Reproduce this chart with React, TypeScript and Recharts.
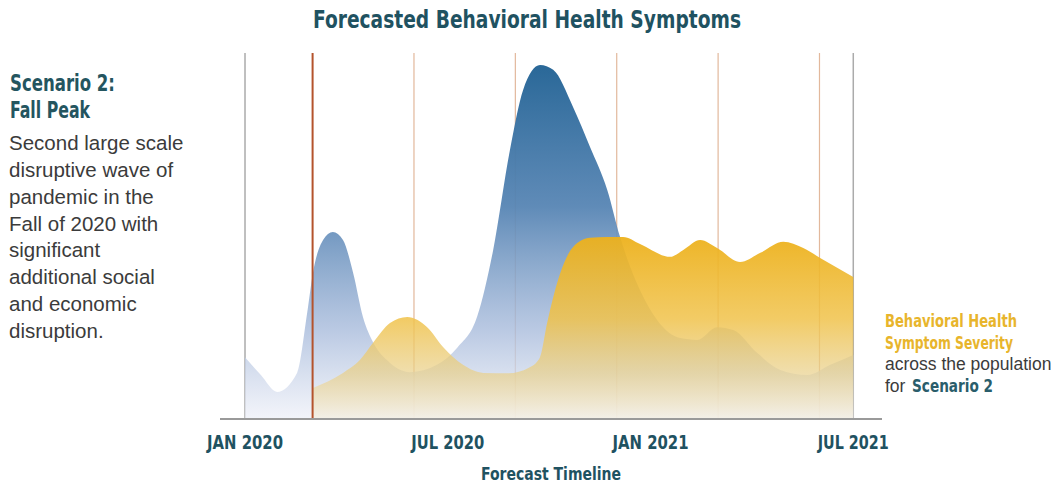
import React from 'react';
import { AreaChart, Area, XAxis, YAxis, ReferenceLine, Label, CartesianGrid } from 'recharts';

// months since JAN 2020
const blueMonths = [0, 0.47, 0.95, 1.54, 1.84, 2.01, 2.31, 2.6, 2.9, 3.2, 3.49, 3.79, 4.2, 4.88, 5.68, 6.28, 6.87, 7.34, 7.84, 8.23, 8.73, 9.12, 9.71, 10.21, 10.72, 11.1, 11.4, 11.69, 12.2, 12.88, 13.38, 13.97, 14.45, 15.16, 15.84, 16.64, 17.32, 18];
const blueValues = [16.9, 12, 7.4, 12.6, 29, 39.9, 48.9, 51.1, 48.9, 39.9, 27.9, 21, 16.1, 12.8, 14.8, 19.5, 28, 46, 73.5, 89.9, 96.7, 95.4, 85.2, 74.3, 62.6, 49.7, 41.5, 35.2, 27, 22.1, 21.6, 25.1, 24.3, 18, 13.4, 12, 14.8, 17.5];

const yellowMonths = [2.01, 2.9, 3.4, 3.79, 4.29, 4.8, 5.39, 5.86, 6.45, 7.05, 7.8, 8.4, 8.73, 8.94, 9.33, 9.71, 10.21, 10.72, 11.19, 11.69, 12.58, 12.97, 13.47, 13.97, 14.65, 15.25, 15.93, 16.52, 17.02, 18];
const yellowValues = [8.5, 12.6, 16.1, 20.8, 26.2, 27.9, 25.1, 19.7, 14.8, 12.6, 12.5, 14, 16.9, 26.2, 39.9, 47, 49.5, 49.7, 49.7, 47.8, 44.3, 46.2, 48.9, 46.7, 42.9, 45.4, 48.4, 46.7, 44, 38.8];

const tickMonths = [0, 6, 12, 18];
const tickLabels = ['JAN 2020', 'JUL 2020', 'JAN 2021', 'JUL 2021'];
const tickWidths = [76, 73, 76, 71];

const quarterLines = [5, 8, 11, 14, 17];
const edgeLines = [0, 18];
const startLine = 2;

const leftHeading = ['Scenario 2:', 'Fall Peak'];
const leftHeadingWidths = [105, 80];
const leftBody = ['Second large scale', 'disruptive wave of', 'pandemic in the', 'Fall of 2020 with', 'significant', 'additional social', 'and economic', 'disruption.'];

// merged table built from the arrays
const tMap = new Map<number, any>();
blueMonths.forEach((t, i) => {
  const r = tMap.get(t) || { t };
  r.blue = blueValues[i];
  tMap.set(t, r);
});
yellowMonths.forEach((t, i) => {
  const r = tMap.get(t) || { t };
  r.yellow = yellowValues[i];
  tMap.set(t, r);
});
const data = Array.from(tMap.values()).sort((a, b) => a.t - b.t);

const NARROW = "'Liberation Sans Narrow', 'Arial Narrow', 'DejaVu Sans Condensed', sans-serif";
const REG = "'Liberation Sans', Arial, sans-serif";
const TEAL = '#1f5261';

const renderTick = (props: any) => {
  const { x, y, payload } = props;
  const i = tickMonths.indexOf(payload.value);
  return (
    <text
      x={x}
      y={y + 22}
      textAnchor="middle"
      fontFamily={NARROW}
      fontWeight={700}
      fontSize={20}
      fill={TEAL}
      textLength={tickWidths[i]}
      lengthAdjust="spacingAndGlyphs"
    >
      {tickLabels[i]}
    </text>
  );
};

const renderAxisLabel = (props: any) => {
  const vb = props.viewBox || {};
  const cx = (vb.x ?? 220) + (vb.width ?? 662) / 2;
  const top = (vb.y ?? 419) + (vb.height ?? 30);
  return (
    <text
      x={cx}
      y={top + 31}
      textAnchor="middle"
      fontFamily={NARROW}
      fontWeight={700}
      fontSize={17}
      fill={TEAL}
      textLength={140}
      lengthAdjust="spacingAndGlyphs"
    >
      Forecast Timeline
    </text>
  );
};

export default function App() {
  return (
    <div style={{ position: 'absolute', left: 0, top: 0, width: 1054, height: 483, background: '#fff' }}>
      <AreaChart
        width={1054}
        height={483}
        data={data}
        margin={{ top: 53, left: 220, right: 172, bottom: 34 }}
      >
        <defs>
          <linearGradient id="blueGrad" x1="0" y1="0" x2="0" y2="1">
            <stop offset="0%" stopColor="#2a6898" stopOpacity={1} />
            <stop offset="40%" stopColor="#5785b4" stopOpacity={0.95} />
            <stop offset="75%" stopColor="#a9bcdc" stopOpacity={0.8} />
            <stop offset="100%" stopColor="#eef0f8" stopOpacity={0.7} />
          </linearGradient>
          <linearGradient id="yellowGrad" x1="0" y1="0" x2="0" y2="1">
            <stop offset="0%" stopColor="#edb11c" stopOpacity={0.95} />
            <stop offset="45%" stopColor="#f0c24a" stopOpacity={0.85} />
            <stop offset="75%" stopColor="#e9d08a" stopOpacity={0.7} />
            <stop offset="100%" stopColor="#f3efe6" stopOpacity={0.85} />
          </linearGradient>
        </defs>
        <CartesianGrid horizontal={false} verticalValues={quarterLines} stroke="#e2b89c" strokeWidth={1.2} />
        <CartesianGrid horizontal={false} verticalValues={edgeLines} stroke="#ababab" strokeWidth={1.5} />
        <XAxis
          type="number"
          dataKey="t"
          domain={[-0.74, 18.85]}
          allowDataOverflow
          ticks={tickMonths}
          tick={renderTick}
          tickLine={false}
          axisLine={{ stroke: '#9a9a9a', strokeWidth: 2 }}
          height={30}
          interval={0}
        >
          <Label content={renderAxisLabel} />
        </XAxis>
        <YAxis
          type="number"
          domain={[0, 100]}
          allowDataOverflow
          tick={false}
          tickLine={false}
          width={0}
          axisLine={{ stroke: '#9a9a9a', strokeWidth: 2 }}
        />
        <Area
          type="monotone"
          dataKey="blue"
          stroke="none"
          fill="url(#blueGrad)"
          fillOpacity={1}
          connectNulls
          isAnimationActive={false}
          dot={false}
          activeDot={false}
        />
        <Area
          type="monotone"
          dataKey="yellow"
          stroke="none"
          fill="url(#yellowGrad)"
          fillOpacity={1}
          connectNulls
          isAnimationActive={false}
          dot={false}
          activeDot={false}
        />
        <ReferenceLine x={startLine} stroke="#b4532c" strokeWidth={2} />
      </AreaChart>
      <svg width={1054} height={483} style={{ position: 'absolute', left: 0, top: 0, pointerEvents: 'none' }}>
        <text
          x={527}
          y={28}
          textAnchor="middle"
          fontFamily={NARROW}
          fontWeight={700}
          fontSize={24}
          fill={TEAL}
          textLength={428}
          lengthAdjust="spacingAndGlyphs"
        >
          Forecasted Behavioral Health Symptoms
        </text>
        {leftHeading.map((s, i) => (
          <text
            key={s}
            x={10}
            y={91 + i * 27}
            fontFamily={NARROW}
            fontWeight={700}
            fontSize={23}
            fill="#24555f"
            textLength={leftHeadingWidths[i]}
            lengthAdjust="spacingAndGlyphs"
          >
            {s}
          </text>
        ))}
        {leftBody.map((s, i) => (
          <text key={s} x={9} y={150 + i * 26.85} fontFamily={REG} fontSize={20.5} fill="#3b3b3b">
            {s}
          </text>
        ))}
        <text x={885} y={327} fontFamily={NARROW} fontWeight={700} fontSize={17.5} fill="#e8b52c" textLength={132} lengthAdjust="spacingAndGlyphs">
          Behavioral Health
        </text>
        <text x={885} y={349} fontFamily={NARROW} fontWeight={700} fontSize={17.5} fill="#e8b52c" textLength={128} lengthAdjust="spacingAndGlyphs">
          Symptom Severity
        </text>
        <text x={885} y={370} fontFamily={REG} fontSize={17.5} fill="#3b3b3b">across the population</text>
        <text x={885} y={392} fontFamily={REG} fontSize={17.5} fill="#3b3b3b">for</text>
        <text x={912} y={392} fontFamily={NARROW} fontWeight={700} fontSize={18} fill="#2a5d6b" textLength={81} lengthAdjust="spacingAndGlyphs">
          Scenario 2
        </text>
      </svg>
    </div>
  );
}
